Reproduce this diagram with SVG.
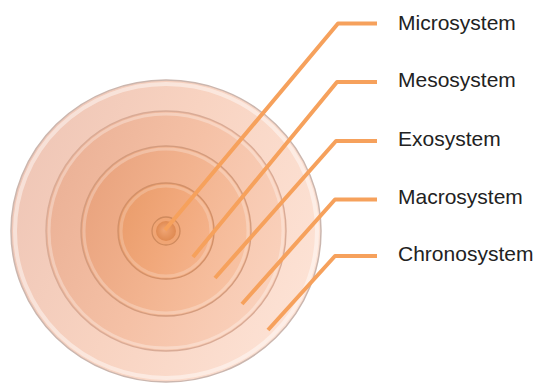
<svg xmlns="http://www.w3.org/2000/svg" width="536" height="385" viewBox="0 0 536 385">
  <style>
    .lbl { font-family: "Liberation Sans", Arial, sans-serif; font-size: 21px; fill: #222222; }
    .conn { fill: none; stroke: #f6a15c; stroke-width: 4; stroke-linejoin: round; stroke-linecap: butt; }
    .edge { fill: none; }
  </style>
  <defs>
    <linearGradient id="g1" x1="0" y1="0.3" x2="1" y2="0.7">
      <stop offset="0" stop-color="#efc6b6"/>
      <stop offset="0.45" stop-color="#f8d3c1"/>
      <stop offset="1" stop-color="#fde3d6"/>
    </linearGradient>
    <linearGradient id="g2" x1="0" y1="0.3" x2="1" y2="0.7">
      <stop offset="0" stop-color="#ebb196"/>
      <stop offset="0.5" stop-color="#f5c1a6"/>
      <stop offset="1" stop-color="#fad2bd"/>
    </linearGradient>
    <linearGradient id="g3" x1="0" y1="0.3" x2="1" y2="0.7">
      <stop offset="0" stop-color="#e9a37e"/>
      <stop offset="0.5" stop-color="#f2b38f"/>
      <stop offset="1" stop-color="#f8c3a4"/>
    </linearGradient>
    <linearGradient id="g4" x1="0" y1="0.3" x2="1" y2="0.7">
      <stop offset="0" stop-color="#ea9d6c"/>
      <stop offset="0.5" stop-color="#f1a87b"/>
      <stop offset="1" stop-color="#f5b48d"/>
    </linearGradient>
    <radialGradient id="g5" cx="0.5" cy="0.5" r="0.5" fx="0.4" fy="0.45">
      <stop offset="0" stop-color="#f0a574"/>
      <stop offset="1" stop-color="#df8a52"/>
    </radialGradient>
  </defs>

  <g id="ring-chronosystem">
    <ellipse cx="166" cy="231" rx="155" ry="151" fill="url(#g1)" stroke="#cbb6ae" stroke-width="1.5"/>
    <ellipse cx="166" cy="231" rx="151" ry="147" class="edge" stroke="#ffffff" stroke-opacity="0.45" stroke-width="4"/>
  </g>
  <g id="ring-macrosystem">
    <circle cx="166" cy="231" r="120" fill="url(#g2)" stroke="#d9ab96" stroke-width="1.4"/>
    <circle cx="166" cy="231" r="117" class="edge" stroke="#ffffff" stroke-opacity="0.3" stroke-width="3"/>
  </g>
  <g id="ring-exosystem">
    <circle cx="166" cy="231" r="85" fill="url(#g3)" stroke="#d49c7e" stroke-width="1.4"/>
    <circle cx="166" cy="231" r="82" class="edge" stroke="#ffffff" stroke-opacity="0.25" stroke-width="3"/>
  </g>
  <g id="ring-mesosystem">
    <circle cx="166" cy="231" r="48" fill="url(#g4)" stroke="#d39169" stroke-width="1.4"/>
    <circle cx="166" cy="231" r="45" class="edge" stroke="#ffffff" stroke-opacity="0.2" stroke-width="3"/>
  </g>
  <g id="ring-microsystem">
    <circle cx="166" cy="231" r="14" fill="#f0a574" stroke="#cf8a5d" stroke-width="1.3"/>
    <circle cx="166" cy="231" r="10" fill="url(#g5)"/>
  </g>

  <g id="connectors">
    <polyline class="conn" points="377,23.5 338,23.5 165,230"/>
    <polyline class="conn" points="377,82 337,82 193,257"/>
    <polyline class="conn" points="377,141 336,141 215,278"/>
    <polyline class="conn" points="377,199.5 335,199.5 242,304"/>
    <polyline class="conn" points="377,256 335,256 268,330"/>
  </g>

  <g id="label-microsystem"><text class="lbl" x="398" y="30">Microsystem</text></g>
  <g id="label-mesosystem"><text class="lbl" x="398" y="87">Mesosystem</text></g>
  <g id="label-exosystem"><text class="lbl" x="398" y="145.5">Exosystem</text></g>
  <g id="label-macrosystem"><text class="lbl" x="398" y="204">Macrosystem</text></g>
  <g id="label-chronosystem"><text class="lbl" x="398" y="261">Chronosystem</text></g>
</svg>
